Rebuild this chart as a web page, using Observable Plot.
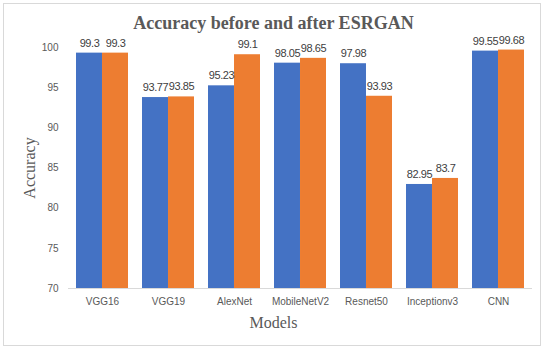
<!DOCTYPE html>
<html>
<head>
<meta charset="utf-8">
<script src="https://cdn.jsdelivr.net/npm/d3@7"></script>
<script src="https://cdn.jsdelivr.net/npm/@observablehq/plot@0.6"></script>
<style>
  html, body { margin: 0; padding: 0; background: #fff; }
  #wrap { position: relative; width: 547px; height: 351px; overflow: hidden; }
  #frame { position: absolute; left: 3px; top: 3px; width: 538px; height: 343px; border: 1px solid #d9d9d9; box-sizing: border-box; pointer-events: none; }
  .title { position: absolute; left: 0; width: 547px; top: 13px; text-align: center; font-family: "Liberation Serif", "Times New Roman", serif; font-weight: bold; font-size: 18px; color: #595959; }
  .ylab { position: absolute; left: 30px; top: 168px; transform: translate(-50%, -50%) rotate(-90deg); font-family: "Liberation Serif", "Times New Roman", serif; font-size: 16px; color: #595959; white-space: nowrap; }
  .xlab { position: absolute; left: 0; width: 597px; top: 314px; text-align: center; font-family: "Liberation Serif", "Times New Roman", serif; font-size: 16px; color: #595959; }
  #chart { position: absolute; left: 0; top: 0; }
  #chart svg g[aria-label="text"] text { letter-spacing: -0.45px; }
</style>
</head>
<body>
<div id="wrap">
  <div id="chart"></div>
  <div id="frame"></div>
  <div class="title">Accuracy before and after ESRGAN</div>
  <div class="ylab">Accuracy</div>
  <div class="xlab" style="width:547px; left:0;">Models</div>
</div>
<script>
const models = ["VGG16", "VGG19", "AlexNet", "MobileNetV2", "Resnet50", "Inceptionv3", "CNN"];
const before = [99.3, 93.77, 95.23, 98.05, 97.98, 82.95, 99.55];
const after = [99.3, 93.85, 99.1, 98.65, 93.93, 83.7, 99.68];
const yTicks = [70, 75, 80, 85, 90, 95, 100];

const W = 547, H = 351, mL = 68, mR = 15, mT = 47, mB = 63;
const padInner = 0.215;
const step = (W - mL - mR) / models.length;
const bw = step * (1 - padInner);
const half = bw / 2;

const beforeData = models.map((m, i) => ({model: m, value: before[i]}));
const afterData = models.map((m, i) => ({model: m, value: after[i]}));

const chart = Plot.plot({
  width: W,
  height: H,
  marginLeft: mL,
  marginRight: mR,
  marginTop: mT,
  marginBottom: mB,
  style: {fontFamily: "'Liberation Sans', Arial, sans-serif", fontSize: "10px", background: "transparent"},
  x: {domain: models, paddingInner: padInner, paddingOuter: padInner / 2, align: 0.5, axis: null},
  y: {domain: [70, 100], axis: null},
  marks: [
    Plot.barY(beforeData, {x: "model", y1: 70, y2: "value", fill: "#4472C4", insetRight: half}),
    Plot.barY(afterData, {x: "model", y1: 70, y2: "value", fill: "#ED7D31", insetLeft: half}),
    Plot.ruleY([70], {stroke: "#d9d9d9", strokeWidth: 1}),
    Plot.axisY({ticks: yTicks, tickSize: 0, tickPadding: 10, fill: "#595959", label: null, fontSize: 10}),
    Plot.axisX({tickSize: 0, tickPadding: 9, fill: "#595959", label: null, fontSize: 10}),
    Plot.text(beforeData, {x: "model", y: "value", text: d => String(d.value), dx: -half / 2, dy: -10, fill: "#404040", fontSize: 11}),
    Plot.text(afterData, {x: "model", y: "value", text: d => String(d.value), dx: half / 2, dy: -10, fill: "#404040", fontSize: 11})
  ]
});
document.getElementById("chart").appendChild(chart);
</script>
</body>
</html>
